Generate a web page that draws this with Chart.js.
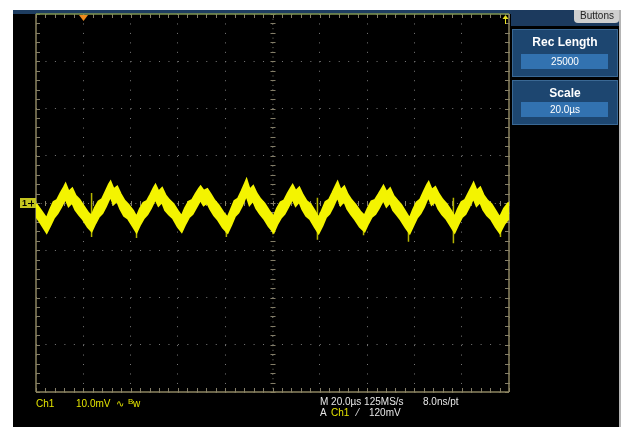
<!DOCTYPE html>
<html>
<head>
<meta charset="utf-8">
<script src="https://cdn.jsdelivr.net/npm/chart.js@4.4.1/dist/chart.umd.min.js"></script>
<style>
  html, body { margin: 0; padding: 0; background: #fff; }
  canvas { display: block; }
</style>
</head>
<body>
<canvas id="scope" width="626" height="427"></canvas>
<script>
// time axis: 20 µs/div, 10 divisions; vertical: 10 mV/div, 8 divisions
const xTicks = [-100, -80, -60, -40, -20, 0, 20, 40, 60, 80, 100];
const yTicks = [-40, -30, -20, -10, 0, 10, 20, 30, 40];

const timeUs = [
  -100, -98,
  -95.5, -94, -92.5, -91, -89.5, -88.1, -87.5, -86.2, -84.7, -83.3, -81.7, -80, -78,
  -76.5, -75, -73.5, -72, -70.5, -69.1, -68.5, -67.2, -65.7, -64.3, -62.7, -61, -59,
  -57.5, -56, -54.5, -53, -51.5, -50.1, -49.5, -48.2, -46.7, -45.3, -43.7, -42, -40,
  -38.4, -36.9, -35.4, -33.9, -32.4, -31, -30.4, -29.1, -27.6, -26.2, -24.6, -22.9, -20.9,
  -19, -17.5, -16, -14.5, -13, -11.6, -11, -9.7, -8.2, -6.8, -5.2, -3.5, -1.5,
  0.5, 2, 3.5, 5, 6.5, 7.9, 8.5, 9.8, 11.3, 12.7, 14.3, 16, 18,
  19.5, 21, 22.5, 24, 25.5, 26.9, 27.5, 28.8, 30.3, 31.7, 33.3, 35, 37,
  38.9, 40.4, 41.9, 43.4, 44.9, 46.3, 46.9, 48.2, 49.7, 51.1, 52.7, 54.4, 56.4,
  58, 59.5, 61, 62.5, 64, 65.4, 66, 67.3, 68.8, 70.2, 71.8, 73.5, 75.5,
  77, 78.5, 80, 81.5, 83, 84.4, 85, 86.3, 87.8, 89.2, 90.8, 92.5, 94.5,
  96.1, 98, 100
];
const upperMv = [
  -0.2, -1.6,
  -3.4, -1.5, 0.2, 0.6, 2.1, 3.3, 3.9, 2.3, 3.0, 1.5, 0.7, -0.6, -2.1,
  -2.8, -1.0, 0.3, 0.8, 2.4, 3.9, 4.4, 2.8, 3.4, 1.9, 0.5, -0.4, -1.7,
  -3.1, -1.3, 0.0, 0.4, 1.8, 3.2, 3.7, 2.3, 3.1, 1.6, 0.6, -0.2, -1.8,
  -2.9, -1.1, 0.2, 0.6, 1.9, 3.0, 3.4, 2.5, 2.9, 1.8, 0.5, -0.5, -2.0,
  -3.2, -1.4, 0.4, 0.9, 2.5, 4.1, 4.8, 2.7, 3.5, 2.0, 0.8, -0.1, -1.7,
  -3.0, -1.2, 0.1, 0.5, 2.0, 3.2, 3.7, 2.4, 3.2, 1.7, 0.4, -0.3, -1.9,
  -3.3, -1.6, 0.2, 0.7, 2.2, 3.7, 4.3, 2.6, 3.4, 1.8, 0.6, -0.4, -1.8,
  -2.8, -1.1, 0.3, 0.6, 1.8, 3.0, 3.5, 2.2, 3.0, 1.5, 0.5, -0.5, -2.1,
  -3.4, -1.5, 0.1, 0.7, 2.3, 3.8, 4.3, 2.7, 3.3, 1.9, 0.7, -0.2, -1.7,
  -3.1, -1.3, 0.2, 0.6, 2.1, 3.5, 4.1, 2.5, 3.2, 1.6, 0.5, -0.3, -1.9,
  -3.2, -1.2, 0.1
];
const lowerMv = [
  -2.7, -4.2,
  -6.2, -4.7, -3.1, -2.2, -0.9, 0.5, 1.0, -0.6, 0.2, -1.4, -2.5, -3.5, -5.1,
  -5.9, -4.3, -2.9, -2.1, -0.7, 0.9, 1.5, -0.2, 0.5, -1.2, -2.7, -3.3, -4.9,
  -6.1, -4.5, -3.2, -2.4, -1.1, 0.4, 0.9, -0.5, 0.3, -1.5, -2.4, -3.2, -5.0,
  -6.0, -4.4, -3.0, -2.3, -1.0, 0.3, 0.7, -0.4, 0.1, -1.3, -2.6, -3.6, -5.2,
  -6.2, -4.6, -2.8, -2.0, -0.6, 1.1, 1.7, -0.3, 0.6, -1.1, -2.3, -3.3, -4.9,
  -6.1, -4.4, -3.1, -2.3, -0.9, 0.5, 0.9, -0.5, 0.4, -1.3, -2.7, -3.4, -5.1,
  -6.3, -4.8, -3.0, -2.2, -0.8, 0.8, 1.4, -0.4, 0.5, -1.2, -2.4, -3.5, -5.0,
  -5.9, -4.3, -2.9, -2.3, -1.1, 0.3, 0.7, -0.7, 0.2, -1.5, -2.5, -3.6, -5.2,
  -6.3, -4.7, -3.1, -2.2, -0.8, 0.9, 1.4, -0.3, 0.4, -1.2, -2.4, -3.3, -4.9,
  -6.1, -4.5, -3.0, -2.3, -0.9, 0.6, 1.1, -0.5, 0.3, -1.4, -2.6, -3.4, -5.1,
  -6.2, -4.4, -3.1
];

// narrow glitches near the troughs
const spikeTimes = [-76.5, -57.5, -19.5, 0.2, 19.0, 38.5, 57.5, 76.5, 96.4];
const spikeHigh  = [2.1, -2.8, -3.0, -3.5, 1.1, -3.2, -3.0, 1.1, -2.5];
const spikeLow   = [-7.2, -7.4, -7.2, -6.6, -7.8, -6.8, -8.2, -8.5, -7.2];

const traceColor = '#f4f400';

const upperPts = timeUs.map((t, i) => ({ x: t, y: upperMv[i] }));
const lowerPts = timeUs.map((t, i) => ({ x: t, y: lowerMv[i] }));
const spikePts = [];
spikeTimes.forEach((t, i) => {
  spikePts.push({ x: t, y: spikeHigh[i] }, { x: t, y: spikeLow[i] }, { x: t, y: null });
});

function line(ctx, x1, y1, x2, y2) {
  ctx.beginPath();
  ctx.moveTo(x1, y1);
  ctx.lineTo(x2, y2);
  ctx.stroke();
}

const scopeDecor = {
  id: 'scopeDecor',
  beforeDraw(chart) {
    const ctx = chart.ctx;
    ctx.save();
    ctx.fillStyle = '#fff';
    ctx.fillRect(0, 0, 626, 427);
    ctx.fillStyle = '#000';
    ctx.fillRect(13, 10, 606, 417);
    ctx.fillStyle = '#b4b4b4';
    ctx.fillRect(619, 10, 2, 417);
    // top status strip
    ctx.fillStyle = '#1e3d60';
    ctx.fillRect(13, 10, 498, 4);
    ctx.restore();
  },
  beforeDatasetsDraw(chart) {
    const ctx = chart.ctx;
    const { left, right, top, bottom } = chart.chartArea;
    const xs = chart.scales.x, ys = chart.scales.y;
    const cx = xs.getPixelForValue(0), cy = ys.getPixelForValue(0);
    ctx.save();
    // centre cross, dotted
    ctx.strokeStyle = '#75756a';
    ctx.lineWidth = 1;
    ctx.setLineDash([1, 3.73]);
    line(ctx, cx + 0.5, top, cx + 0.5, bottom);
    line(ctx, left, cy + 0.5, right, cy + 0.5);
    ctx.setLineDash([]);
    // minor ticks, 5 per division
    ctx.strokeStyle = '#847e68';
    for (let v = -100; v <= 100; v += 4) {
      const px = Math.round(xs.getPixelForValue(v)) + 0.5;
      line(ctx, px, top, px, top + 4);
      line(ctx, px, bottom - 4, px, bottom);
      line(ctx, px, cy - 2, px, cy + 3);
    }
    for (let v = -40; v <= 40; v += 2) {
      const py = Math.round(ys.getPixelForValue(v)) + 0.5;
      line(ctx, left, py, left + 4, py);
      line(ctx, right - 4, py, right, py);
      line(ctx, cx - 2, py, cx + 3, py);
    }
    // graticule frame
    ctx.lineWidth = 1.5;
    ctx.strokeStyle = '#8c8460';
    line(ctx, left, top, left, bottom);
    line(ctx, left, bottom, right, bottom);
    line(ctx, right, top, right, bottom);
    ctx.strokeStyle = '#7f9450';
    line(ctx, left, top, right, top);
    ctx.restore();
  },
  afterDraw(chart) {
    const ctx = chart.ctx;
    const { top } = chart.chartArea;
    const ys = chart.scales.y;
    const cy = ys.getPixelForValue(0);
    ctx.save();

    // trigger position marker (orange) and record marker (yellow)
    ctx.fillStyle = '#f08a1c';
    ctx.beginPath();
    ctx.moveTo(79, top + 1);
    ctx.lineTo(88, top + 1);
    ctx.lineTo(83.5, top + 7);
    ctx.closePath();
    ctx.fill();
    ctx.strokeStyle = '#e6e020';
    ctx.fillStyle = '#e6e020';
    ctx.lineWidth = 1;
    line(ctx, 505.5, top + 2, 505.5, top + 10);
    ctx.beginPath();
    ctx.moveTo(502.5, top + 5);
    ctx.lineTo(508.5, top + 5);
    ctx.lineTo(505.5, top + 1);
    ctx.closePath();
    ctx.fill();

    // channel 1 ground marker
    ctx.fillStyle = '#c4c420';
    ctx.fillRect(20, cy - 5, 16, 10);
    ctx.fillStyle = '#000';
    ctx.font = 'bold 9px "Liberation Sans"';
    ctx.textBaseline = 'middle';
    ctx.textAlign = 'left';
    ctx.fillText('1', 22, cy + 0.5);
    ctx.strokeStyle = '#000';
    line(ctx, 28, cy + 0.5, 34, cy + 0.5);
    line(ctx, 31.5, cy - 2.5, 31.5, cy + 3.5);

    // right side menu
    ctx.fillStyle = '#1c3a5e';
    ctx.fillRect(511, 10, 108, 16);
    ctx.fillStyle = '#cfcfcf';
    ctx.beginPath();
    ctx.moveTo(574, 10);
    ctx.lineTo(619, 10);
    ctx.lineTo(619, 20);
    ctx.quadraticCurveTo(619, 23, 615, 23);
    ctx.lineTo(578, 23);
    ctx.quadraticCurveTo(574, 23, 574, 19);
    ctx.closePath();
    ctx.fill();
    ctx.fillStyle = '#222';
    ctx.font = '10px "Liberation Sans"';
    ctx.textAlign = 'center';
    ctx.fillText('Buttons', 597, 16.5);

    const boxes = [
      { y: 29, h: 48, title: 'Rec Length', value: '25000' },
      { y: 80, h: 45, title: 'Scale', value: '20.0\u00b5s' }
    ];
    boxes.forEach(b => {
      ctx.fillStyle = '#1d4670';
      ctx.fillRect(512, b.y, 106, b.h);
      ctx.strokeStyle = '#3a6894';
      ctx.lineWidth = 1;
      ctx.strokeRect(512.5, b.y + 0.5, 105, b.h - 1);
      ctx.fillStyle = '#3272b0';
      ctx.fillRect(521, b.y + b.h - 23, 87, 15);
      ctx.fillStyle = '#fff';
      ctx.font = 'bold 12px "Liberation Sans"';
      ctx.fillText(b.title, 565, b.y + 14);
      ctx.font = '10px "Liberation Sans"';
      ctx.fillText(b.value, 565, b.y + b.h - 15);
    });

    // readouts along the bottom
    ctx.textAlign = 'left';
    ctx.font = '10px "Liberation Sans"';
    ctx.fillStyle = '#e4e400';
    ctx.fillText('Ch1', 36, 404);
    ctx.fillText('10.0mV', 76, 404);
    ctx.fillText('\u223f', 116, 404);
    ctx.font = '8px "Liberation Sans"';
    ctx.fillText('B', 128, 402);
    ctx.font = '10px "Liberation Sans"';
    ctx.fillText('w', 133, 404);
    ctx.fillStyle = '#e6e6e6';
    ctx.fillText('M 20.0\u00b5s 125MS/s', 320, 402);
    ctx.fillText('8.0ns/pt', 423, 402);
    ctx.fillText('A', 320, 413);
    ctx.fillText('\u2044', 357, 413);
    ctx.fillText('120mV', 369, 413);
    ctx.fillStyle = '#e4e400';
    ctx.fillText('Ch1', 331, 413);
    ctx.restore();
  }
};

new Chart(document.getElementById('scope'), {
  type: 'line',
  data: {
    datasets: [
      {
        label: 'Ch1 upper',
        data: upperPts,
        borderColor: traceColor,
        borderWidth: 2.5,
        pointRadius: 0,
        tension: 0,
        fill: false
      },
      {
        label: 'Ch1 lower',
        data: lowerPts,
        borderColor: traceColor,
        backgroundColor: traceColor,
        borderWidth: 2.5,
        pointRadius: 0,
        tension: 0,
        fill: '-1'
      },
      {
        label: 'glitches',
        data: spikePts,
        borderColor: '#b4b400',
        borderWidth: 1.5,
        pointRadius: 0,
        spanGaps: false,
        fill: false
      }
    ]
  },
  options: {
    responsive: false,
    animation: false,
    layout: { padding: { left: 36, right: 117, top: 14, bottom: 35 } },
    plugins: { legend: { display: false }, tooltip: { enabled: false } },
    scales: {
      x: {
        type: 'linear',
        min: xTicks[0],
        max: xTicks[xTicks.length - 1],
        afterFit: s => { s.height = 0; },
        afterBuildTicks: s => { s.ticks = xTicks.map(v => ({ value: v })); },
        ticks: { display: false },
        grid: { color: '#7a7a7a', drawTicks: false, lineWidth: 1 },
        border: { display: false, dash: [1, 8.46] }
      },
      y: {
        type: 'linear',
        min: yTicks[0],
        max: yTicks[yTicks.length - 1],
        afterFit: s => { s.width = 0; },
        afterBuildTicks: s => { s.ticks = yTicks.map(v => ({ value: v })); },
        ticks: { display: false },
        grid: { color: '#7a7a7a', drawTicks: false, lineWidth: 1 },
        border: { display: false, dash: [1, 8.46] }
      }
    }
  },
  plugins: [scopeDecor]
});
</script>
</body>
</html>
